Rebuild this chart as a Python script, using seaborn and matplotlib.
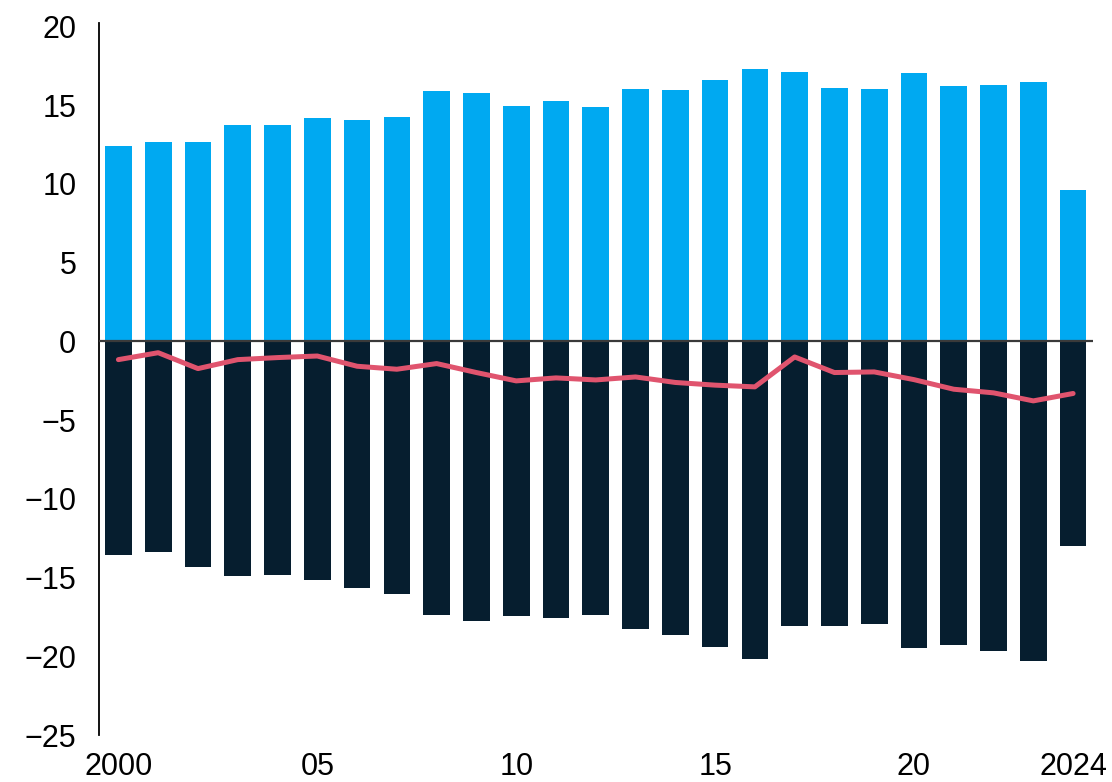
import numpy as np
import pandas as pd
import matplotlib
matplotlib.use("Agg")
import matplotlib.pyplot as plt
import seaborn as sns

years = list(range(2000, 2025))
inflows = [12.41, 12.66, 12.68, 13.76, 13.75, 14.16, 14.06, 14.25, 15.92, 15.75,
           14.95, 15.24, 14.90, 16.00, 15.98, 16.62, 17.27, 17.10, 16.09, 16.00,
           17.04, 16.24, 16.30, 16.49, 9.63]
outflows = [-13.55, -13.40, -14.35, -14.92, -14.83, -15.13, -15.66, -16.02, -17.37, -17.73,
            -17.46, -17.59, -17.37, -18.26, -18.64, -19.40, -20.15, -18.05, -18.07, -17.94,
            -19.47, -19.30, -19.64, -20.29, -12.97]
balance = [-1.16, -0.72, -1.73, -1.16, -1.03, -0.93, -1.58, -1.77, -1.41, -1.98,
           -2.51, -2.32, -2.45, -2.26, -2.61, -2.78, -2.89, -0.99, -1.98, -1.94,
           -2.43, -3.04, -3.27, -3.78, -3.31]
tick_years = [2000, 2005, 2010, 2015, 2020, 2024]
tick_labels = ["2000", "05", "10", "15", "20", "2024"]
y_ticks = [-25, -20, -15, -10, -5, 0, 5, 10, 15, 20]

BLUE = "#00A9F1"
NAVY = "#061E2F"
RED = "#E0546E"

sns.set_style("white")
plt.rcParams["font.family"] = ["Liberation Sans", "DejaVu Sans"]

df = pd.DataFrame({"year": [str(y) for y in years], "inflows": inflows,
                   "outflows": outflows, "balance": balance})
order = df["year"].tolist()

fig = plt.figure(figsize=(11.12, 7.82), dpi=100)
ax = fig.add_axes([0.0886, 0.0601, 0.8943, 0.9101])

sns.barplot(data=df, x="year", y="inflows", order=order, color=BLUE,
            width=0.67, saturation=1, edgecolor="none", linewidth=0, ax=ax)
sns.barplot(data=df, x="year", y="outflows", order=order, color=NAVY,
            width=0.67, saturation=1, edgecolor="none", linewidth=0, ax=ax)
ax.axhline(0, color="#3a3a3a", lw=1.6, zorder=3)
pos = {y: i for i, y in enumerate(order)}
df["pos"] = df["year"].map(pos)
sns.lineplot(data=df, x="pos", y="balance", color=RED, lw=3.6, ax=ax,
             zorder=4, sort=False)

ax.set_xlim(-0.5, 24.5)
ax.set_ylim(-25, 20.2)
ax.set_yticks(y_ticks)
ax.set_xticks([pos[str(y)] for y in tick_years])
ax.set_xticklabels(tick_labels)
ax.set_xlabel("")
ax.set_ylabel("")
ax.tick_params(axis="both", length=0, labelsize=22, colors="black")
ax.tick_params(axis="y", pad=16)
ax.tick_params(axis="x", pad=12)
for s in ["top", "right", "bottom"]:
    ax.spines[s].set_visible(False)
ax.spines["left"].set_color("black")
ax.spines["left"].set_linewidth(1.3)

fig.savefig("out.png", dpi=100)
